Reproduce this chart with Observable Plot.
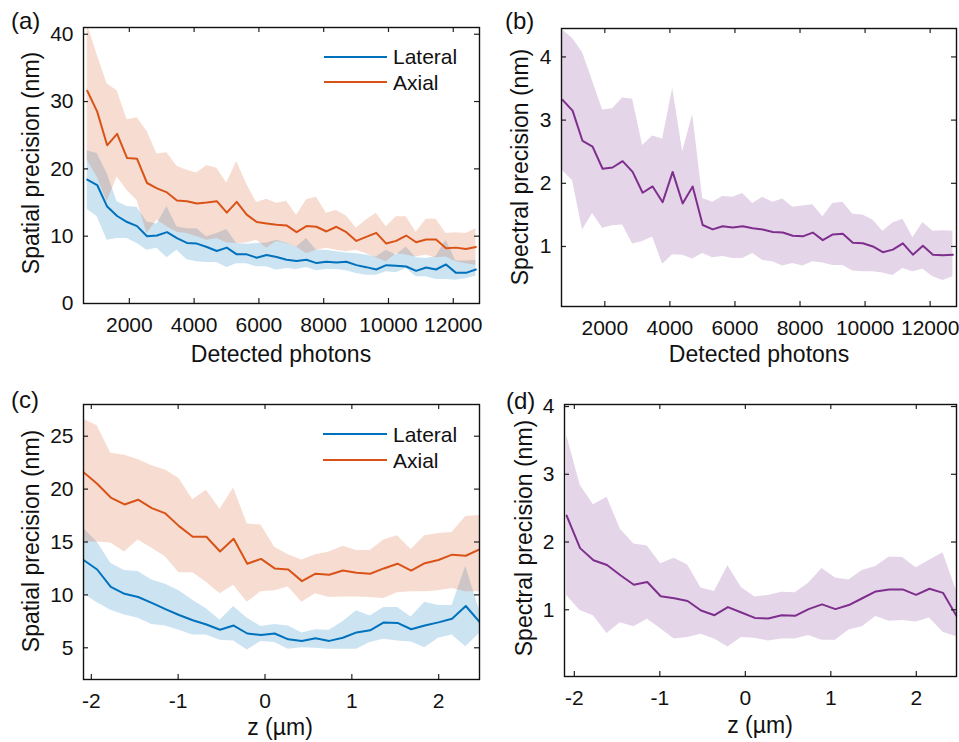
<!DOCTYPE html>
<html>
<head>
<meta charset="utf-8">
<script src="https://cdn.jsdelivr.net/npm/d3@7"></script>
<script src="https://cdn.jsdelivr.net/npm/@observablehq/plot@0.6"></script>
<style>
  html, body { margin: 0; padding: 0; background: #fff; }
  #wrap { position: relative; width: 959px; height: 742px; overflow: hidden; background: #fff; }
  #wrap > .panel { position: absolute; }
  #wrap .panel text { font-size: 21px; font-family: "Liberation Sans", Arial, sans-serif; fill: #111; }
  #overlay { position: absolute; left: 0; top: 0; pointer-events: none; }
  #overlay text { font-family: "Liberation Sans", Arial, sans-serif; fill: #111; }
</style>
</head>
<body>
<div id="wrap"></div>
<script>
// ---------- data ----------
const photons = [700, 1008, 1315, 1623, 1931, 2238, 2546, 2854, 3162, 3469,
  3777, 4085, 4392, 4700, 5008, 5315, 5623, 5931, 6238, 6546,
  6854, 7162, 7469, 7777, 8085, 8392, 8700, 9008, 9315, 9623,
  9931, 10238, 10546, 10854, 11162, 11469, 11777, 12085, 12392, 12700];

// (a) spatial precision vs photons
const lateralA = [18.4, 17.6, 14.4, 13.0, 12.1, 11.5, 10.0, 10.1, 10.6, 9.7,
  9.0, 8.9, 8.4, 7.8, 8.3, 7.3, 7.3, 6.8, 7.2, 6.9,
  6.5, 6.3, 6.5, 6.0, 6.2, 6.1, 6.2, 5.7, 5.4, 5.05,
  5.7, 5.6, 5.5, 4.85, 5.35, 5.05, 5.8, 4.55, 4.55, 5.05];
const lateralHiA = [22.7, 22.3, 19.3, 15.1, 14.4, 14.3, 12.1, 11.8, 14.4, 11.4,
  11.1, 11.1, 9.9, 10.4, 11.0, 8.9, 8.8, 8.9, 9.0, 9.4,
  9.0, 8.4, 9.65, 7.9, 7.9, 7.7, 7.5, 7.4, 7.2, 6.9,
  7.9, 7.2, 8.4, 6.8, 6.7, 7.0, 9.4, 6.3, 6.3, 6.4];
const lateralLoA = [14.0, 12.9, 9.4, 9.65, 9.65, 8.9, 7.9, 8.2, 6.8, 7.9,
  6.5, 6.2, 6.1, 6.1, 5.35, 5.9, 5.9, 5.45, 5.45, 4.95,
  5.2, 5.05, 5.35, 4.85, 5.05, 5.05, 4.85, 4.45, 4.2, 4.2,
  4.7, 4.55, 5.2, 3.96, 3.96, 3.56, 3.56, 3.47, 3.7, 4.06];
const axialA = [31.6, 28.5, 23.5, 25.2, 21.6, 21.5, 17.9, 17.1, 16.5, 15.3,
  15.2, 14.85, 15.0, 15.2, 13.5, 15.1, 13.2, 12.1, 11.9, 11.7,
  11.6, 10.6, 11.5, 11.4, 10.7, 11.4, 10.6, 9.3, 9.9, 10.5,
  8.9, 9.3, 10.1, 9.1, 9.5, 9.5, 8.2, 8.3, 8.1, 8.4];
const axialHiA = [41.5, 36.9, 32.6, 31.6, 27.3, 27.6, 25.6, 22.2, 22.4, 20.4,
  19.8, 19.4, 20.5, 20.1, 17.9, 21.1, 17.7, 15.0, 15.5, 14.9,
  15.2, 13.1, 15.4, 15.8, 13.4, 13.8, 13.0, 11.2, 12.4, 13.4,
  11.4, 12.9, 12.9, 10.6, 12.5, 12.5, 10.4, 10.5, 10.4, 11.1];
const axialLoA = [21.3, 18.8, 15.1, 18.8, 16.8, 15.3, 10.4, 12.4, 11.4, 10.6,
  10.4, 9.9, 9.4, 9.65, 9.0, 8.9, 9.0, 9.4, 8.2, 9.2,
  8.9, 8.4, 7.4, 7.9, 8.2, 7.9, 7.7, 7.9, 7.4, 6.8,
  6.2, 7.4, 7.2, 6.9, 7.2, 6.8, 6.9, 6.2, 5.9, 5.7];

// (b) spectral precision vs photons
const spectralB = [3.32, 3.15, 2.67, 2.58, 2.23, 2.25, 2.35, 2.18, 1.85, 1.95,
  1.70, 2.18, 1.68, 1.95, 1.34, 1.27, 1.32, 1.30, 1.32, 1.29,
  1.27, 1.23, 1.22, 1.17, 1.16, 1.22, 1.10, 1.19, 1.20, 1.06,
  1.05, 1.00, 0.91, 0.95, 1.05, 0.87, 1.01, 0.87, 0.86, 0.87];
const spectralHiB = [4.43, 4.29, 4.07, 3.62, 3.16, 3.18, 3.35, 3.33, 2.60, 2.75,
  2.70, 3.50, 2.50, 3.09, 1.76, 1.70, 1.79, 1.78, 1.84, 1.68,
  1.78, 1.70, 1.75, 1.62, 1.64, 1.66, 1.47, 1.68, 1.70, 1.51,
  1.50, 1.42, 1.24, 1.37, 1.43, 1.14, 1.38, 1.24, 1.25, 1.24];
const spectralLoB = [2.20, 2.04, 1.26, 1.52, 1.29, 1.33, 1.34, 1.04, 1.08, 1.15,
  0.72, 0.87, 0.86, 0.80, 0.89, 0.82, 0.84, 0.81, 0.81, 0.89,
  0.78, 0.76, 0.69, 0.73, 0.69, 0.76, 0.74, 0.70, 0.70, 0.61,
  0.60, 0.60, 0.58, 0.54, 0.65, 0.60, 0.64, 0.52, 0.46, 0.52];

// z positions (µm) for (c) and (d)
const zPos = [-2.09, -1.933, -1.776, -1.618, -1.461, -1.304, -1.147, -0.990, -0.832, -0.675,
  -0.518, -0.361, -0.204, -0.046, 0.111, 0.268, 0.425, 0.582, 0.740, 0.897,
  1.054, 1.211, 1.368, 1.526, 1.683, 1.840, 1.997, 2.154, 2.312, 2.469];

// (c) spatial precision vs z
const lateralC = [13.3, 12.4, 10.75, 10.1, 9.8, 9.25, 8.65, 8.1, 7.6, 7.2,
  6.7, 7.1, 6.35, 6.2, 6.35, 5.8, 5.65, 5.9, 5.65, 5.95,
  6.45, 6.65, 7.4, 7.35, 6.75, 7.1, 7.4, 7.75, 8.95, 7.45];
const lateralHiC = [16.3, 15.0, 13.0, 12.3, 12.2, 11.4, 11.0, 10.4, 9.5, 8.7,
  7.6, 8.9, 7.8, 7.0, 7.2, 7.05, 6.4, 6.7, 6.65, 7.45,
  8.5, 8.0, 8.8, 8.8, 7.9, 9.3, 9.0, 9.0, 12.7, 8.55];
const lateralLoC = [10.1, 9.25, 8.55, 8.1, 7.8, 7.2, 7.05, 6.65, 6.2, 6.2,
  5.7, 5.65, 4.8, 5.6, 5.5, 4.85, 5.0, 4.95, 4.85, 4.85,
  4.85, 5.5, 5.8, 5.65, 5.55, 5.0, 5.9, 6.2, 5.1, 6.35];
const axialC = [21.6, 20.5, 19.2, 18.55, 19.0, 18.2, 17.7, 16.5, 15.5, 15.5,
  14.1, 15.3, 12.95, 13.4, 12.5, 12.4, 11.3, 12.0, 11.9, 12.3,
  12.1, 12.0, 12.5, 12.95, 12.3, 13.0, 13.3, 13.8, 13.7, 14.3];
const axialHiC = [26.6, 26.0, 23.4, 23.2, 22.8, 22.2, 21.8, 21.0, 19.0, 19.9,
  18.1, 20.1, 16.7, 16.6, 14.5, 13.8, 13.3, 13.8, 14.05, 14.6,
  14.2, 14.2, 15.2, 15.6, 14.3, 15.6, 15.8, 15.9, 17.4, 17.5];
const axialLoC = [15.0, 15.0, 14.9, 14.05, 15.2, 14.4, 13.6, 12.1, 12.1, 11.2,
  10.1, 10.9, 9.3, 10.3, 10.4, 10.75, 9.3, 10.1, 9.75, 9.8,
  9.8, 9.75, 9.65, 10.2, 10.3, 10.3, 10.4, 10.6, 10.3, 10.3];

// (d) spectral precision vs z
const spectralD = [2.39, 1.91, 1.73, 1.66, 1.51, 1.37, 1.41, 1.20, 1.17, 1.13,
  0.99, 0.92, 1.04, 0.96, 0.88, 0.87, 0.92, 0.91, 1.01, 1.08,
  1.01, 1.07, 1.17, 1.27, 1.30, 1.30, 1.22, 1.31, 1.25, 0.91];
const spectralHiD = [3.58, 2.84, 2.55, 2.66, 2.19, 1.97, 1.94, 1.68, 1.76, 1.66,
  1.32, 1.27, 1.65, 1.33, 1.19, 1.21, 1.26, 1.25, 1.39, 1.61,
  1.47, 1.44, 1.58, 1.64, 1.78, 1.77, 1.62, 1.73, 1.84, 1.28];
const spectralLoD = [1.21, 0.99, 0.91, 0.65, 0.81, 0.75, 0.86, 0.72, 0.57, 0.59,
  0.64, 0.57, 0.45, 0.59, 0.58, 0.54, 0.57, 0.57, 0.62, 0.55,
  0.55, 0.70, 0.75, 0.90, 0.83, 0.84, 0.82, 0.88, 0.67, 0.60];

// tick values
const photonTicks = [2000, 4000, 6000, 8000, 10000, 12000];
const zTicks = [-2, -1, 0, 1, 2];
const spatialTicksA = [0, 10, 20, 30, 40];
const spatialTicksC = [5, 10, 15, 20, 25];
const spectralTicks = [1, 2, 3, 4];

// ---------- styling ----------
const BLUE = "#0072BD", ORANGE = "#D95319", PURPLE = "#7E2F8E";
const FONT = "'Liberation Sans', Arial, sans-serif";
const TICK_PX = 5;

// inward tick marks on all four sides (lengths converted from pixels to data units)
function frameAxes(xTicks, yTicks, xDomain, yDomain, frameW, frameH) {
  const fmt = d => String(d);
  const [x0, x1] = xDomain, [y0, y1] = yDomain;
  const dxT = (x1 - x0) * TICK_PX / frameW;
  const dyT = (y1 - y0) * TICK_PX / frameH;
  const xt = xTicks.filter(v => v > x0 && v < x1);
  const yt = yTicks.filter(v => v > y0 && v < y1);
  const tk = {stroke: "#222", strokeWidth: 1.2};
  return [
    Plot.ruleX(xt, {y1: y0, y2: y0 + dyT, ...tk}),
    Plot.ruleX(xt, {y1: y1 - dyT, y2: y1, ...tk}),
    Plot.ruleY(yt, {x1: x0, x2: x0 + dxT, ...tk}),
    Plot.ruleY(yt, {x1: x1 - dxT, x2: x1, ...tk}),
    Plot.axisX({ticks: xTicks, tickSize: 0, tickPadding: 14, tickFormat: fmt, label: null, fontSize: 21}),
    Plot.axisY({ticks: yTicks, tickSize: 0, tickPadding: 10, tickFormat: fmt, label: null, fontSize: 21}),
    Plot.frame({stroke: "#111", strokeWidth: 1.4})
  ];
}

function band(x, lo, hi, color) {
  const rows = x.map((v, i) => ({x: v, lo: lo[i], hi: hi[i]}));
  return Plot.areaY(rows, {x: "x", y1: "lo", y2: "hi", fill: color, fillOpacity: 0.2, clip: true});
}
function line(x, y, color) {
  const rows = x.map((v, i) => ({x: v, y: y[i]}));
  return Plot.lineY(rows, {x: "x", y: "y", stroke: color, strokeWidth: 2, clip: true});
}

function panel({left, top, width, marginLeft, marginTop, frameH, xDomain, yDomain, xTicks, yTicks, marks}) {
  const frameW = width - marginLeft - 1;
  const p = Plot.plot({
    width, height: marginTop + frameH + 45,
    marginLeft, marginRight: 1, marginTop, marginBottom: 45,
    style: {fontFamily: FONT, fontSize: "21px", color: "#111", background: "transparent", overflow: "visible"},
    x: {domain: xDomain},
    y: {domain: yDomain},
    marks: [...marks, ...frameAxes(xTicks, yTicks, xDomain, yDomain, frameW, frameH)]
  });
  p.classList.add("panel");
  p.style.left = left + "px";
  p.style.top = top + "px";
  p.style.maxWidth = "none";
  document.getElementById("wrap").appendChild(p);
}

// (a)
panel({left: 0, top: 0, width: 480, marginLeft: 83, marginTop: 27, frameH: 276,
  xDomain: [585, 12810], yDomain: [0, 41], xTicks: photonTicks, yTicks: spatialTicksA,
  marks: [
    band(photons, lateralLoA, lateralHiA, BLUE),
    band(photons, axialLoA, axialHiA, ORANGE),
    line(photons, lateralA, BLUE),
    line(photons, axialA, ORANGE)
  ]});

// (b)
panel({left: 480, top: 0, width: 477, marginLeft: 81, marginTop: 28, frameH: 278,
  xDomain: [668, 12810], yDomain: [0.05, 4.45], xTicks: photonTicks, yTicks: spectralTicks,
  marks: [
    band(photons, spectralLoB, spectralHiB, PURPLE),
    line(photons, spectralB, PURPLE)
  ]});

// (c)
panel({left: 0, top: 377, width: 480, marginLeft: 83, marginTop: 27, frameH: 275,
  xDomain: [-2.09, 2.47], yDomain: [2, 28], xTicks: zTicks, yTicks: spatialTicksC,
  marks: [
    band(zPos, lateralLoC, lateralHiC, BLUE),
    band(zPos, axialLoC, axialHiC, ORANGE),
    line(zPos, lateralC, BLUE),
    line(zPos, axialC, ORANGE)
  ]});

// (d)
panel({left: 480, top: 377, width: 477, marginLeft: 84, marginTop: 27, frameH: 272,
  xDomain: [-2.115, 2.47], yDomain: [0.015, 4.03], xTicks: zTicks, yTicks: spectralTicks,
  marks: [
    band(zPos, spectralLoD, spectralHiD, PURPLE),
    line(zPos, spectralD, PURPLE)
  ]});

// ---------- annotations (titles, panel letters, legends) ----------
const NS = "http://www.w3.org/2000/svg";
const ov = document.createElementNS(NS, "svg");
ov.setAttribute("id", "overlay");
ov.setAttribute("width", 959);
ov.setAttribute("height", 742);
document.getElementById("wrap").appendChild(ov);

function txt(str, x, y, size, opts = {}) {
  const t = document.createElementNS(NS, "text");
  t.textContent = str;
  t.setAttribute("font-size", size);
  if (opts.rotate) {
    t.setAttribute("transform", `translate(${x},${y}) rotate(-90)`);
    t.setAttribute("text-anchor", "middle");
  } else {
    t.setAttribute("x", x);
    t.setAttribute("y", y);
    t.setAttribute("text-anchor", opts.anchor || "start");
  }
  ov.appendChild(t);
}
function seg(x1, x2, y, color) {
  const l = document.createElementNS(NS, "line");
  l.setAttribute("x1", x1); l.setAttribute("x2", x2);
  l.setAttribute("y1", y); l.setAttribute("y2", y);
  l.setAttribute("stroke", color); l.setAttribute("stroke-width", 2);
  ov.appendChild(l);
}

const panelLetters = ["(a)", "(b)", "(c)", "(d)"];
const xTitles = ["Detected photons", "Detected photons", "z (µm)", "z (µm)"];
const yTitles = ["Spatial precision (nm)", "Spectral precision (nm)", "Spatial precision (nm)", "Spectral precision (nm)"];
const seriesNames = ["Lateral", "Axial"];

txt(panelLetters[0], 11, 29, 24);
txt(panelLetters[1], 505, 29, 24);
txt(panelLetters[2], 11, 408, 24);
txt(panelLetters[3], 506, 409, 24);

txt(xTitles[0], 281, 362, 23, {anchor: "middle"});
txt(xTitles[1], 759, 362, 23, {anchor: "middle"});
txt(xTitles[2], 280, 735, 23, {anchor: "middle"});
txt(xTitles[3], 760, 733, 23, {anchor: "middle"});

txt(yTitles[0], 38.5, 163, 23, {rotate: true});
txt(yTitles[1], 528, 167, 23, {rotate: true});
txt(yTitles[2], 38.5, 541, 23, {rotate: true});
txt(yTitles[3], 532, 538, 23, {rotate: true});

// legends
seg(324, 387, 57, BLUE);  txt(seriesNames[0], 393, 64, 21);
seg(324, 387, 82, ORANGE); txt(seriesNames[1], 393, 90, 21);
seg(323, 387, 434, BLUE);  txt(seriesNames[0], 393, 441.5, 21);
seg(323, 387, 460, ORANGE); txt(seriesNames[1], 393, 467.5, 21);
</script>
</body>
</html>
